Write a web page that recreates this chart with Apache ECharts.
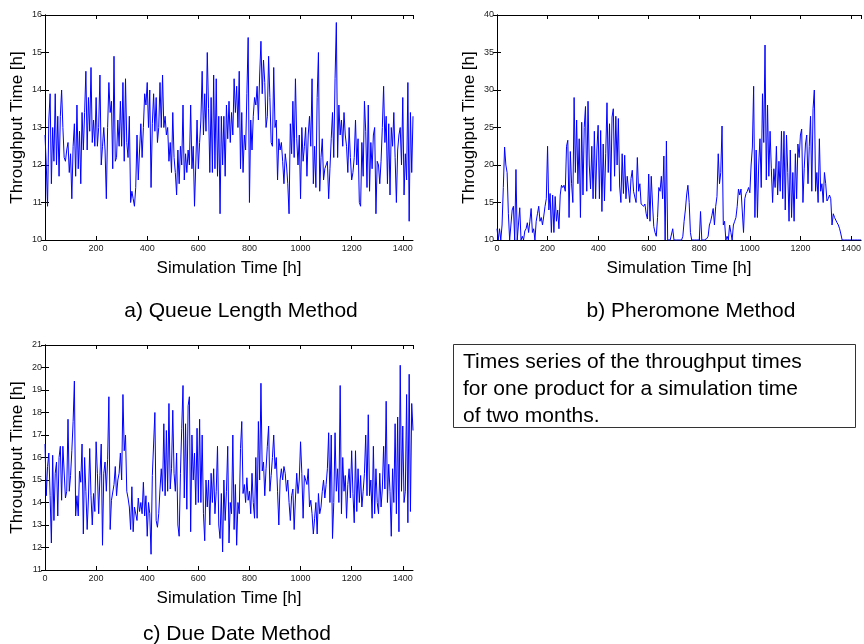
<!DOCTYPE html>
<html>
<head>
<meta charset="utf-8">
<script src="https://cdn.jsdelivr.net/npm/echarts@6/dist/echarts.min.js"></script>
<style>
  html, body { margin: 0; padding: 0; background: #fff; }
  #chart { width: 864px; height: 644px; }
</style>
</head>
<body>
<div id="chart"></div>
<script>
// one sample every 5 h of simulation time, 0 .. 1440 h
const STEP = 5;

const queueLength = [
  12.8, 12.0, 10.9, 13.2, 13.9, 11.5, 13.0, 12.1, 13.9, 12.0, 13.3, 11.7, 13.3, 14.0, 13.0, 12.2, 12.1, 12.4, 12.6, 11.8,
  12.3, 11.1, 12.5, 13.1, 11.7, 13.6, 11.9, 12.9, 11.5, 13.4, 12.4, 13.4, 14.5, 12.4, 13.8, 12.9, 14.6, 12.6, 13.2, 12.5,
  13.8, 12.5, 13.0, 14.4, 12.0, 12.5, 13.0, 12.4, 11.1, 13.0, 14.2, 13.4, 13.7, 11.9, 14.9, 12.1, 12.2, 13.2, 12.5, 13.7,
  12.5, 14.2, 12.1, 14.3, 12.6, 12.2, 13.3, 11.0, 11.3, 11.1, 10.9, 11.4, 12.8, 11.6, 12.4, 13.1, 12.2, 13.0, 13.9, 13.6,
  14.2, 13.0, 14.0, 11.4, 13.1, 13.9, 12.9, 13.8, 12.6, 13.0, 14.2, 13.0, 14.4, 13.0, 13.3, 12.8, 13.0, 12.1, 12.6, 11.8,
  13.4, 12.2, 11.8, 11.2, 12.4, 11.5, 12.5, 12.0, 13.6, 11.6, 12.3, 11.8, 12.4, 12.0, 13.6, 11.9, 12.5, 10.9, 12.0, 13.2,
  11.9, 12.6, 13.2, 14.5, 12.8, 13.9, 12.9, 15.0, 13.5, 11.8, 13.8, 11.8, 14.4, 11.9, 14.3, 11.7, 13.3, 10.7, 13.3, 12.0,
  13.3, 11.7, 13.6, 12.7, 13.7, 12.6, 13.4, 12.8, 14.3, 13.4, 14.1, 13.0, 14.5, 11.9, 13.4, 11.8, 12.8, 12.4, 13.9, 15.4,
  11.0, 13.2, 12.4, 13.3, 13.8, 13.6, 14.1, 13.2, 14.4, 15.3, 13.9, 14.8, 14.2, 13.0, 13.3, 14.9, 13.8, 12.6, 12.5, 14.6,
  13.0, 13.2, 11.6, 12.7, 12.4, 12.6, 12.1, 11.5, 12.3, 12.0, 11.5, 10.7, 13.1, 12.3, 13.7, 12.2, 14.3, 12.7, 12.0, 12.8,
  11.1, 13.0, 12.1, 12.5, 13.0, 11.7, 12.8, 13.3, 12.5, 14.3, 11.5, 12.5, 11.4, 13.8, 15.0, 11.3, 12.2, 12.7, 11.6, 11.9,
  12.0, 12.1, 11.1, 11.9, 12.7, 13.4, 12.2, 14.3, 15.8, 12.2, 13.6, 12.8, 13.2, 12.5, 13.4, 12.8, 12.5, 11.8, 13.0, 12.2,
  11.6, 11.8, 12.2, 13.2, 12.0, 12.7, 11.0, 10.9, 12.6, 11.7, 13.7, 12.9, 11.4, 13.6, 11.3, 12.6, 11.9, 12.8, 13.0, 10.7,
  12.1, 12.0, 11.5, 12.1, 13.0, 14.1, 12.6, 13.3, 11.5, 13.1, 11.2, 13.0, 12.5, 13.4, 12.2, 11.0, 12.4, 12.8, 13.0, 12.0,
  13.8, 11.2, 12.3, 11.6, 14.2, 10.5, 13.4, 11.8, 13.3
];

const pheromone = [
  11.5, 10.0, 11.5, 10.0, 12.0, 17.0, 22.4, 20.0, 19.0, 13.5, 10.0, 10.0, 14.0, 14.5, 10.0, 19.4, 10.0, 10.0, 14.3, 10.0,
  10.5, 10.0, 11.2, 11.5, 12.3, 11.0, 12.5, 14.2, 11.0, 11.5, 10.0, 12.5, 13.5, 14.5, 12.5, 13.0, 12.0, 13.2, 14.5, 15.5,
  22.5, 14.0, 16.2, 11.0, 16.0, 11.0, 15.8, 12.5, 14.0, 11.5, 16.0, 17.3, 17.0, 17.3, 16.5, 22.5, 23.3, 13.0, 21.8, 17.5,
  15.0, 29.0, 19.0, 26.0, 17.5, 23.5, 13.0, 25.7, 16.0, 25.0, 27.8, 16.5, 28.5, 20.0, 16.8, 22.5, 15.5, 24.5, 15.5, 22.0,
  25.3, 15.5, 24.6, 13.8, 22.8, 15.2, 21.5, 28.3, 19.0, 25.5, 16.5, 26.4, 27.5, 18.5, 26.5, 20.0, 26.2, 17.2, 15.0, 21.5,
  16.2, 21.3, 15.5, 18.5, 16.8, 15.0, 18.2, 19.3, 16.5, 16.5, 15.0, 21.0, 16.5, 17.5, 14.8, 14.8, 14.5, 14.8, 13.5, 12.8,
  18.8, 12.5, 18.5, 14.8, 11.8, 11.0, 10.5, 13.0, 17.0, 16.5, 18.5, 15.5, 21.2, 10.0, 23.2, 10.0, 10.0, 10.0, 10.0, 11.5,
  10.0, 10.0, 10.0, 10.0, 10.0, 10.0, 10.0, 10.5, 12.5, 14.0, 16.0, 17.3, 15.0, 11.0, 10.0, 10.0, 10.0, 10.0, 10.0, 10.0,
  10.0, 13.8, 10.0, 10.0, 10.0, 10.0, 10.2, 10.5, 12.0, 12.5, 13.3, 14.2, 12.0, 14.5, 15.8, 21.5, 17.5, 19.0, 25.2, 12.0,
  12.5, 10.0, 10.5, 10.0, 12.0, 11.0, 10.0, 12.0, 12.5, 13.0, 14.5, 16.8, 16.0, 16.8, 17.0, 11.0, 15.5, 16.2, 16.5, 17.0,
  16.3, 20.0, 22.4, 30.5, 13.0, 22.0, 13.0, 20.0, 23.5, 17.0, 29.5, 23.0, 36.0, 18.0, 28.0, 18.5, 24.5, 19.5, 15.0, 19.5,
  17.0, 22.5, 16.0, 20.5, 16.5, 24.5, 15.5, 24.5, 14.0, 24.0, 19.0, 12.5, 22.0, 13.0, 19.0, 12.5, 21.5, 15.5, 22.8, 21.0,
  24.0, 24.8, 15.0, 19.5, 22.8, 24.0, 17.5, 22.5, 26.5, 16.5, 27.5, 30.0, 16.5, 19.0, 15.0, 23.5, 16.5, 17.5, 15.0, 19.0,
  17.5, 15.2, 15.5, 16.0, 15.5, 12.0, 13.5, 13.0, 12.8, 12.3, 12.0, 11.5, 10.8, 10.0, 10.0, 10.0, 10.0, 10.0, 10.0, 10.0,
  10.0, 10.0, 10.0, 10.0, 10.0, 10.0, 10.0, 10.0, 10.0
];

const dueDate = [
  16.6, 14.3, 15.6, 16.2, 14.3, 12.2, 16.1, 13.2, 15.3, 15.8, 13.4, 16.0, 16.5, 14.1, 16.5, 16.5, 14.2, 14.5, 17.7, 14.5,
  15.2, 16.3, 17.6, 19.4, 13.4, 14.3, 13.4, 15.4, 14.9, 16.6, 12.6, 16.0, 14.5, 12.8, 14.2, 16.4, 14.3, 13.0, 14.4, 13.6,
  16.7, 15.3, 13.5, 15.2, 16.6, 12.1, 15.3, 15.8, 14.5, 15.9, 18.7, 12.8, 14.1, 14.1, 14.8, 15.6, 14.3, 15.0, 15.3, 16.2,
  15.0, 18.8, 16.3, 17.0, 14.5, 14.2, 13.8, 12.8, 14.7, 12.7, 13.8, 13.8, 13.2, 14.2, 13.6, 14.0, 13.5, 14.9, 13.4, 14.3,
  12.5, 14.0, 13.5, 11.7, 15.2, 15.2, 18.0, 13.2, 12.9, 13.5, 14.6, 15.5, 14.5, 17.5, 14.3, 17.2, 14.5, 18.4, 14.6, 15.5,
  18.1, 15.3, 14.5, 16.2, 13.0, 12.5, 15.3, 17.3, 19.2, 14.2, 17.5, 13.7, 18.3, 18.7, 12.7, 17.0, 15.0, 16.2, 13.9, 17.3,
  14.0, 17.7, 14.0, 17.0, 13.5, 12.3, 15.0, 13.8, 15.0, 13.0, 15.3, 14.0, 15.5, 13.5, 14.5, 16.5, 13.0, 12.4, 14.4, 11.8,
  15.0, 13.2, 14.5, 16.5, 12.2, 14.0, 13.5, 17.0, 12.8, 14.8, 12.1, 14.0, 13.5, 16.4, 17.6, 14.4, 14.8, 14.0, 15.1, 14.1,
  14.5, 13.5, 15.3, 14.0, 13.3, 16.0, 13.3, 17.6, 15.0, 19.3, 15.4, 15.8, 14.3, 15.5, 16.5, 17.4, 14.5, 15.2, 16.0, 17.0,
  15.5, 16.0, 14.5, 13.0, 15.0, 15.5, 15.0, 15.6, 15.3, 14.5, 15.0, 14.0, 13.2, 14.3, 14.6, 12.8, 14.2, 15.3, 14.4, 15.0,
  16.7, 15.3, 13.3, 15.2, 15.0, 14.8, 15.5, 13.8, 14.1, 13.5, 12.6, 13.3, 14.0, 12.6, 14.4, 13.5, 13.8, 14.5, 15.0, 14.2,
  14.8, 15.5, 17.1, 14.0, 17.0, 12.4, 14.0, 17.1, 14.5, 15.5, 14.0, 19.2, 13.5, 16.0, 14.5, 15.2, 13.3, 14.8, 15.5, 14.2,
  16.3, 14.4, 13.1, 16.3, 13.6, 15.5, 14.0, 15.2, 13.8, 14.5, 15.3, 17.0, 14.3, 17.9, 14.3, 15.0, 13.3, 16.5, 13.5, 15.5,
  14.0, 13.5, 15.3, 13.8, 14.6, 16.5, 14.6, 18.5, 14.0, 15.7, 14.5, 12.5, 15.5, 14.0, 17.5, 13.5, 17.8, 12.7, 20.1, 14.5,
  17.4, 14.0, 14.5, 18.8, 13.1, 19.7, 13.6, 18.4, 17.2
];

const panelTitles = ['a) Queue Length Method', 'b) Pheromone Method', 'c) Due Date Method'];
const yRanges = [[10, 16, 1], [10, 40, 5], [11, 21, 1]];
const xRange = [0, 1440, 200];
const note = 'Times series of the throughput times\nfor one product for a simulation time\nof two months.';

const FONT = '"Liberation Sans", Arial, sans-serif';
const chart = echarts.init(document.getElementById('chart'));

const grids = [
  { left: 45, top: 15, width: 368, height: 225 },
  { left: 497, top: 15, width: 372, height: 225 },
  { left: 45, top: 345, width: 368, height: 225 }
];

const lineBlack = { show: true, lineStyle: { color: '#000', width: 1 } };
const tickIn = { show: true, inside: true, length: 4, lineStyle: { color: '#000', width: 1 } };
const plain = v => String(v);

let xAxes = [], yAxes = [], series = [];
[queueLength, pheromone, dueDate].forEach((vals, g) => {
  const [ymin, ymax, ystep] = yRanges[g];
  xAxes.push({
    type: 'value', gridIndex: g, min: xRange[0], max: xRange[1], interval: xRange[2],
    axisLine: lineBlack, axisTick: tickIn, splitLine: { show: false },
    axisLabel: { fontSize: 9, color: '#222', margin: 4, fontFamily: FONT, showMaxLabel: false, formatter: plain },
    name: 'Simulation Time [h]', nameLocation: 'middle', nameGap: 20,
    nameTextStyle: { fontSize: 17, color: '#000', fontFamily: FONT }
  });
  xAxes.push({
    type: 'value', gridIndex: g, position: 'top', min: xRange[0], max: xRange[1], interval: xRange[2],
    axisLine: lineBlack, axisTick: tickIn, splitLine: { show: false }, axisLabel: { show: false }
  });
  yAxes.push({
    type: 'value', gridIndex: g, min: ymin, max: ymax, interval: ystep,
    axisLine: lineBlack, axisTick: tickIn, splitLine: { show: false },
    axisLabel: { fontSize: 9, color: '#222', margin: 3, fontFamily: FONT, formatter: plain },
    name: 'Throughput Time [h]', nameLocation: 'middle', nameGap: 19,
    nameTextStyle: { fontSize: 17, color: '#000', fontFamily: FONT }
  });
  yAxes.push({
    type: 'value', gridIndex: g, position: 'right', min: ymin, max: ymax, interval: ystep,
    axisLine: lineBlack, axisTick: tickIn, splitLine: { show: false }, axisLabel: { show: false }
  });
  series.push({
    type: 'line', xAxisIndex: 2 * g, yAxisIndex: 2 * g,
    data: vals.map((v, i) => [i * STEP, v]),
    showSymbol: false, clip: true,
    lineStyle: { color: '#0000ff', width: 1 }
  });
});

chart.setOption({
  animation: false,
  backgroundColor: '#fff',
  title: [
    { text: panelTitles[0], left: 236, top: 296, textAlign: 'center' },
    { text: panelTitles[1], left: 686, top: 296, textAlign: 'center' },
    { text: panelTitles[2], left: 232, top: 619, textAlign: 'center' }
  ].map(t => Object.assign(t, { textStyle: { fontSize: 21, fontWeight: 'normal', color: '#000', fontFamily: FONT } })),
  grid: grids,
  xAxis: xAxes,
  yAxis: yAxes,
  series: series,
  graphic: [
    { type: 'rect', shape: { x: 453.5, y: 344.5, width: 402, height: 83 },
      style: { fill: '#fff', stroke: '#333', lineWidth: 1 } },
    { type: 'text', x: 463, y: 349,
      style: { text: note, fontSize: 21, lineHeight: 27, fill: '#000', fontFamily: FONT } }
  ]
});
</script>
</body>
</html>
